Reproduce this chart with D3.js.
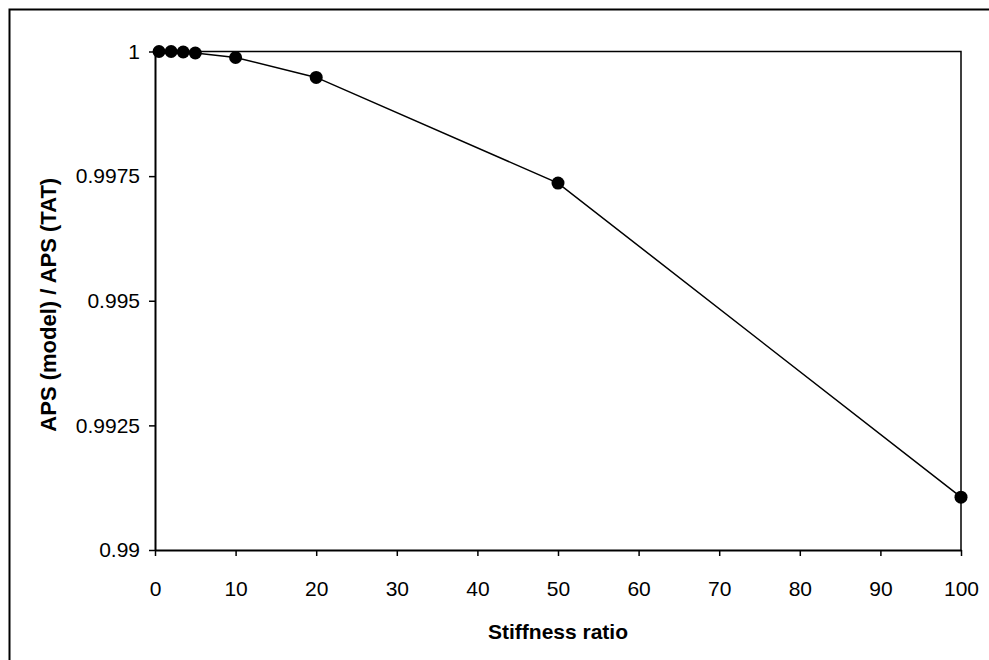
<!DOCTYPE html>
<html><head><meta charset="utf-8">
<script src="https://cdn.jsdelivr.net/npm/d3@7"></script>
<style>body{margin:0;background:#fff;overflow:hidden}svg{display:block}text{font-family:"Liberation Sans",Arial,sans-serif}</style>
</head><body>
<script>
const stiffness = [0.5, 2, 3.5, 5, 10, 20, 50, 100];
const apsRatio = [1.0, 1.0, 0.99999, 0.99997, 0.99988, 0.99948, 0.99736, 0.99106];
const xTicks = [0,10,20,30,40,50,60,70,80,90,100];
const yTicks = [0.99, 0.9925, 0.995, 0.9975, 1];
const yTickLabels = ["0.99","0.9925","0.995","0.9975","1"];

const W=989,H=660;
const svg=d3.select("body").append("svg").attr("width",W).attr("height",H);
svg.append("rect").attr("x",9.5).attr("y",9.5).attr("width",1200).attr("height",900)
  .attr("fill","none").attr("stroke","#000").attr("stroke-width",2);

const L=155,R=961,T=51.5,B=550;
const x=d3.scaleLinear().domain([0,100]).range([L,R]);
const y=d3.scaleLinear().domain([0.99,1]).range([B,T]);

svg.append("path").attr("d",`M${L},${T}H${R}V${B}`).attr("fill","none").attr("stroke","#000").attr("stroke-width",1.5);

const xa=svg.append("g").attr("transform",`translate(0,${B})`)
  .call(d3.axisBottom(x).tickValues(xTicks).tickSize(6).tickPadding(25).tickSizeOuter(0));
const ya=svg.append("g").attr("transform",`translate(${L},0)`)
  .call(d3.axisLeft(y).tickValues(yTicks).tickFormat((d,i)=>yTickLabels[i]).tickSize(6).tickPadding(9).tickSizeOuter(0));
[xa,ya].forEach(g=>{
  g.select(".domain").attr("stroke","#000").attr("stroke-width",2);
  g.selectAll(".tick line").attr("stroke","#000").attr("stroke-width",1.5);
  g.selectAll(".tick text").attr("fill","#000").style("font-size","21px").style("font-family","'Liberation Sans',Arial,sans-serif");
});

const data=stiffness.map((s,i)=>({s,v:apsRatio[i]}));
svg.append("path").datum(data).attr("fill","none").attr("stroke","#000").attr("stroke-width",1.5)
  .attr("d",d3.line().x(d=>x(d.s)).y(d=>y(d.v)));
svg.selectAll("circle.pt").data(data).enter().append("circle").attr("class","pt")
  .attr("cx",d=>x(d.s)).attr("cy",d=>y(d.v)).attr("r",6.5).attr("fill","#000");

svg.append("text").attr("x",(L+R)/2).attr("y",639).attr("text-anchor","middle")
  .style("font-size","21px").style("font-weight","bold").text("Stiffness ratio");
svg.append("text").attr("transform",`translate(56,${(T+B)/2+4}) rotate(-90)`).attr("text-anchor","middle")
  .style("font-size","22px").style("font-weight","bold").text("APS (model) / APS (TAT)");
</script>
</body></html>
